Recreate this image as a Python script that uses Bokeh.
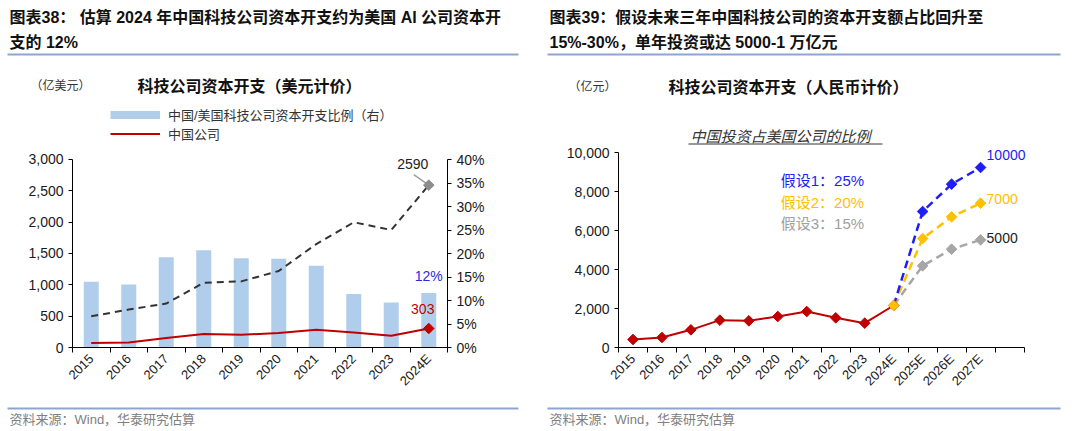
import numpy as np
from bokeh.plotting import figure
from bokeh.models import (Range1d, LinearAxis, FixedTicker, NumeralTickFormatter,
                          PrintfTickFormatter, Label, Legend, LegendItem)
from bokeh.layouts import row, column
from bokeh.core.properties import value
from bokeh.embed import file_html
from bokeh.resources import INLINE

# ---------------- data ----------------
years_usd = ["2015", "2016", "2017", "2018", "2019", "2020", "2021", "2022", "2023", "2024E"]
ratio_pct = [14.0, 13.4, 19.2, 20.7, 19.0, 18.9, 17.4, 11.4, 9.6, 11.6]
us_capex_usd = [498, 605, 702, 1034, 1055, 1221, 1650, 1998, 1875, 2590]
cn_capex_usd = [70, 80, 150, 214, 204, 230, 284, 241, 187, 303]

years_rmb = ["2015", "2016", "2017", "2018", "2019", "2020", "2021", "2022", "2023",
             "2024E", "2025E", "2026E", "2027E"]
cn_capex_rmb = [410, 513, 906, 1402, 1368, 1590, 1846, 1521, 1248, 2154]
scenario_25 = [6974, 8376, 9231]
scenario_20 = [5590, 6701, 7402]
scenario_15 = [4188, 5043, 5521]
scenario_texts = ["假设1：25%", "假设2：20%", "假设3：15%"]
end_texts = ["10000", "7000", "5000"]

title_left = ["图表38：  估算 2024 年中国科技公司资本开支约为美国 AI 公司资本开", "支的 12%"]
title_right = ["图表39：假设未来三年中国科技公司的资本开支额占比回升至", "15%-30%，单年投资或达 5000-1 万亿元"]
chart_title_left = "科技公司资本开支（美元计价）"
chart_title_right = "科技公司资本开支（人民币计价）"
unit_left = "（亿美元）"
unit_right = "（亿元）"
subtitle_right = "中国投资占美国公司的比例"
legend_labels = ["中国/美国科技公司资本开支比例（右）", "中国公司"]
source_text = "资料来源：Wind，华泰研究估算"

# ---------------- style ----------------
LATIN = "Liberation Sans"
MIX = "Liberation Sans, Noto Sans CJK SC"
CJK = "Noto Sans CJK SC"
RED = "#C00000"
BAR = "#B0CEEB"
BLUE = "#1E1EF5"
GOLD = "#FFC000"
GREY = "#A6A6A6"
RULE = "#8EA6CF"
FULL_W = 1080
W = 540
HEAD_H = 145
CHART_H = 255
FOOT_H = 31


def deco_fig(h):
    f = figure(width=FULL_W, height=h, x_range=Range1d(0, FULL_W), y_range=Range1d(h, 0),
               output_backend="svg", toolbar_location=None, min_border=0,
               outline_line_color=None, x_axis_type=None, y_axis_type=None)
    f.grid.visible = False
    return f


def style_axis(ax, size="14px"):
    ax.axis_line_color = "#000000"
    ax.axis_line_width = 1
    ax.major_label_text_font = LATIN
    ax.major_label_text_font_size = size
    ax.major_label_text_color = "#1a1a1a"
    ax.minor_tick_line_color = None
    ax.major_tick_line_color = "#000000"
    ax.major_tick_in = 0
    ax.major_tick_out = 4


def style_xaxis(ax, n_slots, centers, labels):
    ax.ticker = FixedTicker(ticks=list(centers), minor_ticks=list(range(n_slots + 1)))
    ax.major_label_overrides = {float(c): lab for c, lab in zip(centers, labels)}
    ax.bounds = (0, n_slots)
    ax.axis_line_color = "#000000"
    ax.major_tick_out = 0
    ax.major_tick_in = 0
    ax.minor_tick_out = 5
    ax.minor_tick_in = 0
    ax.minor_tick_line_color = "#000000"
    ax.major_label_orientation = np.pi / 4
    ax.major_label_text_font = LATIN
    ax.major_label_text_font_size = "13px"
    ax.major_label_text_color = "#1a1a1a"
    ax.major_label_standoff = 4


# ================= header (both panels) =================
hd = deco_fig(HEAD_H)
hd.text(x=[9, 9, 549, 549], y=[17, 42, 17, 42], text=title_left + title_right,
        text_font=value(MIX), text_font_size="16px", text_font_style="bold",
        text_baseline="middle", text_align="left", text_color="#111111")
hd.segment(x0=[7, 547], y0=[54, 54], x1=[518, 1060], y1=[54, 54],
           line_color=RULE, line_width=2)
hd.text(x=[30, 568], y=[84, 85], text=[unit_left, unit_right], text_font=value(CJK),
        text_font_size="12px", text_baseline="middle", text_align="left", text_color="#333333")
hd.text(x=[137, 668], y=[84, 85], text=[chart_title_left, chart_title_right],
        text_font=value(CJK), text_font_size="16px", text_font_style="bold",
        text_baseline="middle", text_align="left", text_color="#111111")
hd.text(x=[690], y=[135], text=[subtitle_right], text_font=value(CJK),
        text_font_size="15px", text_font_style="italic", text_baseline="middle",
        text_align="left", text_color="#333333")
hd.segment(x0=[688], y0=[143.5], x1=[882], y1=[143.5], line_color="#333333", line_width=1)

# legend samples (kept outside the visible area of the header; only their legend glyphs show)
leg_bar = hd.line(x=[-30, -20], y=[-30, -30], line_color=BAR, line_width=8)
leg_red = hd.line(x=[-30, -20], y=[-30, -30], line_color=RED, line_width=2)
legend = Legend(items=[LegendItem(label=legend_labels[0], renderers=[leg_bar]),
                       LegendItem(label=legend_labels[1], renderers=[leg_red])],
                location=(110, 2), orientation="vertical", glyph_width=50, glyph_height=19,
                label_height=19, spacing=0, padding=0, margin=0, label_standoff=8,
                border_line_color=None, background_fill_alpha=0,
                label_text_font=MIX, label_text_font_size="13px", label_text_color="#333333")
hd.add_layout(legend)

# ================= left chart =================
n_l = len(years_usd)
xc_l = np.arange(n_l) + 0.5
# y range reaches a little above the top tick so that labels near the top are not clipped
p1 = figure(width=W, height=CHART_H, x_range=Range1d(0, n_l), y_range=Range1d(0, 3223),
            output_backend="svg", toolbar_location=None, min_border_left=72,
            min_border_right=93, min_border_top=0, min_border_bottom=53,
            outline_line_color=None)
p1.grid.visible = False
p1.extra_y_ranges = {"pct": Range1d(0, 42.98)}
p1.vbar(x=xc_l, top=ratio_pct, width=0.4, y_range_name="pct", fill_color=BAR, line_color=None)
p1.line(xc_l, us_capex_usd, line_color="#333333", line_width=2, line_dash="7 5")
p1.line(xc_l, cn_capex_usd, line_color=RED, line_width=2)
p1.segment(x0=[xc_l[-1] - 0.4], y0=[us_capex_usd[-1] + 170], x1=[xc_l[-1]], y1=[us_capex_usd[-1]],
           line_color="#A0A0A0", line_width=1.5)
p1.scatter(x=[xc_l[-1]], y=[us_capex_usd[-1]], marker="square", angle=np.pi / 4, size=7.5,
           fill_color="#8C8C8C", line_color="#8C8C8C")
p1.scatter(x=[xc_l[-1]], y=[cn_capex_usd[-1]], marker="square", angle=np.pi / 4, size=7.5,
           fill_color=RED, line_color=RED)

style_xaxis(p1.xaxis[0], n_l, xc_l, years_usd)
style_axis(p1.yaxis[0])
p1.yaxis[0].ticker = FixedTicker(ticks=list(range(0, 3001, 500)))
p1.yaxis[0].formatter = NumeralTickFormatter(format="0,0")
p1.yaxis[0].bounds = (0, 3000)
ax_r = LinearAxis(y_range_name="pct", ticker=FixedTicker(ticks=list(range(0, 41, 5))),
                  formatter=PrintfTickFormatter(format="%d%%"), bounds=(0, 40))
style_axis(ax_r)
p1.add_layout(ax_r, "right")

p1.add_layout(Label(x=xc_l[-1], y=us_capex_usd[-1], text=str(us_capex_usd[-1]), x_offset=-16,
                    y_offset=21, text_align="center", text_baseline="middle",
                    text_font=LATIN, text_font_size="14px", text_color="#222222"))
p1.add_layout(Label(x=xc_l[-1], y=ratio_pct[-1], y_range_name="pct",
                    text=f"{round(ratio_pct[-1])}%", x_offset=0, y_offset=17,
                    text_align="center", text_baseline="middle",
                    text_font=LATIN, text_font_size="14px", text_color="#2B2BE0"))
p1.add_layout(Label(x=xc_l[-1], y=cn_capex_usd[-1], text=str(cn_capex_usd[-1]), x_offset=-6,
                    y_offset=20, text_align="center", text_baseline="middle",
                    text_font=LATIN, text_font_size="14px", text_color=RED))

# ================= right chart =================
n_r = len(years_rmb)
n_slots_r = n_r + 1
xc_r = np.arange(n_r) + 0.5
n_hist = len(cn_capex_rmb)
x_hist = xc_r[:n_hist]
x_scen = xc_r[n_hist - 1:]

p2 = figure(width=W, height=CHART_H, x_range=Range1d(0, n_slots_r + 0.5),
            y_range=Range1d(0, 10359),
            output_backend="svg", toolbar_location=None, min_border_left=78,
            min_border_right=42, min_border_top=0, min_border_bottom=53,
            outline_line_color=None)
p2.grid.visible = False

for vals, col in [(scenario_15, GREY), (scenario_20, GOLD), (scenario_25, BLUE)]:
    ys = [cn_capex_rmb[-1]] + vals
    p2.line(x_scen, ys, line_color=col, line_width=2.5, line_dash="8 5")
    p2.scatter(x_scen[1:], vals, marker="square", angle=np.pi / 4, size=7.5,
               fill_color=col, line_color=col)

p2.line(x_hist, cn_capex_rmb, line_color=RED, line_width=2)
p2.scatter(x_hist, cn_capex_rmb, marker="square", angle=np.pi / 4, size=7.5,
           fill_color=RED, line_color=RED)
p2.scatter(x=[x_hist[-1]], y=[cn_capex_rmb[-1]], marker="square", angle=np.pi / 4, size=7.5,
           fill_color=GOLD, line_color=GOLD)

style_xaxis(p2.xaxis[0], n_slots_r, xc_r, years_rmb)
style_axis(p2.yaxis[0])
p2.yaxis[0].ticker = FixedTicker(ticks=list(range(0, 10001, 2000)))
p2.yaxis[0].formatter = NumeralTickFormatter(format="0,0")
p2.yaxis[0].bounds = (0, 10000)

end_cols = [BLUE, GOLD, "#222222"]
end_vals = [scenario_25[-1], scenario_20[-1], scenario_15[-1]]
end_dy = [12, 4, 2]
for t, c, v, dy in zip(end_texts, end_cols, end_vals, end_dy):
    p2.add_layout(Label(x=xc_r[-1], y=v, text=t, x_offset=6, y_offset=dy, text_align="left",
                        text_baseline="middle", text_font=LATIN, text_font_size="14px",
                        text_color=c))

scen_cols = [BLUE, GOLD, "#A0A0A0"]
scen_y = [8564, 7436, 6359]
for t, c, yv in zip(scenario_texts, scen_cols, scen_y):
    p2.add_layout(Label(x=5.6, y=yv, text=t, text_align="left", text_baseline="middle",
                        text_font=MIX, text_font_size="15px", text_color=c))

# ================= footer =================
ft = deco_fig(FOOT_H)
ft.segment(x0=[7, 547], y0=[8, 8], x1=[518, 1060], y1=[8, 8],
           line_color=RULE, line_width=2)
ft.text(x=[9, 549], y=[19, 19], text=[source_text, source_text], text_font=value(MIX),
        text_font_size="13px", text_baseline="middle", text_align="left", text_color="#808080")

layout = column(hd, row(p1, p2), ft)
open("out.html", "w").write(file_html(layout, INLINE))
